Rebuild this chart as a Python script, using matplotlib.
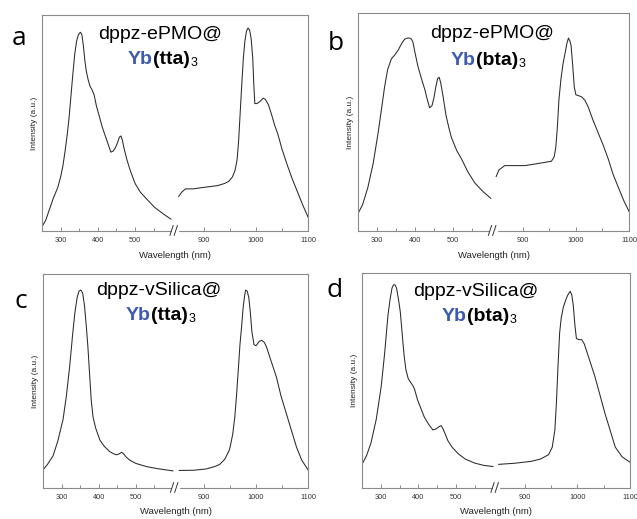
import numpy as np
import matplotlib
matplotlib.use("Agg")
import matplotlib.pyplot as plt
from matplotlib.ticker import FixedLocator, NullLocator

plt.rcParams['font.family'] = ['Liberation Sans', 'DejaVu Sans']

# ---- data (wavelength nm, normalised intensity) ----
a_uv_x = [250, 260, 270, 280, 292, 300, 306, 312, 318, 323, 328, 333, 338, 343, 348, 353, 357, 361, 365, 369,
          374, 379, 384, 390, 396, 404, 412, 420, 428, 435, 441, 447, 453, 458, 462, 466, 470, 478, 487, 500,
          514, 530, 552, 575, 596]
a_uv_y = [0.02, 0.05, 0.10, 0.15, 0.20, 0.25, 0.30, 0.37, 0.45, 0.53, 0.63, 0.73, 0.82, 0.88, 0.91, 0.92, 0.91, 0.86,
          0.79, 0.74, 0.70, 0.67, 0.655, 0.63, 0.58, 0.53, 0.48, 0.44, 0.40, 0.365, 0.37, 0.385, 0.41, 0.435, 0.44,
          0.42, 0.385, 0.33, 0.28, 0.22, 0.18, 0.15, 0.11, 0.08, 0.055]
a_nir_x = [852, 858, 865, 880, 894, 910, 926, 940, 948, 955, 960, 964, 967, 970, 973, 976, 979, 982, 985, 988,
           991, 994, 996, 998, 1002, 1008, 1014, 1018, 1024, 1030, 1036, 1042, 1050, 1061, 1070, 1080, 1090, 1100]
a_nir_y = [0.16, 0.18, 0.195, 0.195, 0.20, 0.205, 0.21, 0.22, 0.23, 0.25, 0.28, 0.33, 0.42, 0.55, 0.68, 0.80, 0.88,
           0.925, 0.94, 0.93, 0.89, 0.80, 0.68, 0.59, 0.59, 0.60, 0.615, 0.61, 0.585, 0.54, 0.49, 0.45, 0.38, 0.30,
           0.24, 0.18, 0.12, 0.065]

b_uv_x = [250, 262, 276, 290, 303, 312, 320, 328, 338, 348, 356, 365, 373, 380, 386, 391, 395, 400, 408, 417,
          426, 433, 439, 445, 450, 455, 460, 464, 468, 474, 482, 490, 496, 510, 523, 540, 558, 580, 600]
b_uv_y = [0.08, 0.12, 0.20, 0.31, 0.45, 0.56, 0.66, 0.74, 0.79, 0.81, 0.83, 0.86, 0.88, 0.885, 0.885, 0.88, 0.865,
          0.82, 0.755, 0.70, 0.65, 0.60, 0.565, 0.575, 0.61, 0.66, 0.70, 0.705, 0.68, 0.62, 0.53, 0.47, 0.43, 0.37,
          0.33, 0.27, 0.22, 0.18, 0.15]
b_nir_x = [849, 855, 866, 885, 904, 930, 954, 959, 962, 965, 968, 972, 976, 980, 983, 986, 989, 991, 994, 997,
           1000, 1006, 1011, 1017, 1023, 1032, 1042, 1052, 1061, 1070, 1080, 1090, 1100]
b_nir_y = [0.25, 0.28, 0.30, 0.30, 0.30, 0.31, 0.32, 0.34, 0.38, 0.47, 0.60, 0.70, 0.77, 0.82, 0.86, 0.885, 0.87,
           0.85, 0.76, 0.66, 0.625, 0.62, 0.615, 0.60, 0.57, 0.51, 0.45, 0.39, 0.33, 0.26, 0.20, 0.14, 0.09]

c_uv_x = [250, 262, 277, 290, 304, 313, 322, 330, 336, 342, 347, 352, 357, 362, 367, 371, 376, 380, 385, 392,
          403, 415, 430, 440, 448, 456, 462, 467, 474, 484, 500, 529, 560, 600]
c_uv_y = [0.085, 0.11, 0.15, 0.22, 0.32, 0.43, 0.57, 0.72, 0.82, 0.89, 0.92, 0.925, 0.91, 0.85, 0.75, 0.66, 0.52,
          0.41, 0.33, 0.28, 0.225, 0.195, 0.17, 0.16, 0.155, 0.16, 0.167, 0.16, 0.145, 0.13, 0.115, 0.10, 0.09, 0.08]
c_nir_x = [852, 880, 904, 920, 930, 940, 949, 955, 959, 962, 966, 969, 972, 975, 978, 980, 983, 986, 989, 992,
           996, 1000, 1006, 1011, 1016, 1020, 1028, 1039, 1048, 1058, 1068, 1078, 1088, 1100]
c_nir_y = [0.082, 0.083, 0.089, 0.10, 0.11, 0.135, 0.18, 0.25, 0.33, 0.42, 0.56, 0.67, 0.75, 0.84, 0.90, 0.925,
           0.92, 0.89, 0.82, 0.73, 0.67, 0.665, 0.685, 0.69, 0.68, 0.66, 0.60, 0.52, 0.43, 0.35, 0.27, 0.19, 0.13,
           0.085]

d_uv_x = [250, 262, 274, 288, 301, 310, 319, 325, 330, 334, 338, 342, 347, 352, 357, 362, 367, 373, 380, 386,
          390, 398, 407, 416, 428, 439, 448, 455, 461, 466, 472, 479, 490, 506, 525, 550, 575, 599]
d_uv_y = [0.11, 0.15, 0.21, 0.32, 0.47, 0.62, 0.80, 0.88, 0.93, 0.945, 0.945, 0.93, 0.88, 0.82, 0.72, 0.62, 0.55,
          0.51, 0.49, 0.475, 0.46, 0.41, 0.37, 0.33, 0.295, 0.27, 0.275, 0.285, 0.29, 0.275, 0.25, 0.22, 0.19, 0.16,
          0.135, 0.116, 0.105, 0.10]
d_nir_x = [848, 880, 912, 930, 945, 952, 957, 960, 963, 966, 969, 973, 977, 981, 986, 989, 992, 995, 998, 1003,
           1008, 1013, 1017, 1025, 1033, 1042, 1052, 1062, 1072, 1085, 1100]
d_nir_y = [0.11, 0.115, 0.124, 0.135, 0.155, 0.19, 0.27, 0.40, 0.57, 0.72, 0.79, 0.84, 0.87, 0.895, 0.915, 0.90,
           0.85, 0.76, 0.695, 0.69, 0.69, 0.67, 0.64, 0.58, 0.52, 0.44, 0.35, 0.27, 0.19, 0.145, 0.12]

panel_letters = ['a', 'b', 'c', 'd']
hosts = ['dppz-ePMO@', 'dppz-ePMO@', 'dppz-vSilica@', 'dppz-vSilica@']
ligands = ['(tta)', '(bta)', '(tta)', '(bta)']
major_ticks = [300, 400, 500, 900, 1000, 1100]
minor_ticks = [350, 450, 550, 950, 1050]

W, H = 637, 519

# broken wavelength axis: 250-600 | 850-1100
bx = [0, 600, 850, 2000]
by = [-0.35, 0.49, 0.51, 2.764]
def fwd(x):
    return np.interp(x, bx, by)
def inv(y):
    return np.interp(y, by, bx)

fig = plt.figure(figsize=(W / 100, H / 100), dpi=100)

# axes boxes in pixels: left, top, right, bottom
boxes = [(42, 15, 308, 231), (358, 13, 629, 231), (43, 274, 308, 488), (362, 273, 630, 488)]
series = [(a_uv_x, a_uv_y, a_nir_x, a_nir_y), (b_uv_x, b_uv_y, b_nir_x, b_nir_y),
          (c_uv_x, c_uv_y, c_nir_x, c_nir_y), (d_uv_x, d_uv_y, d_nir_x, d_nir_y)]
letter_pos = [(12, 45), (328, 50), (14, 308), (326, 297)]
title1_pos = [(160, 39), (492, 38), (159, 295), (476, 296)]
title2_pos = [(128, 64), (451, 65), (126, 320), (442, 321)]

frame_col = '#8a8a8a'
line_col = '#2a2a2a'
blue = '#3d5bb3'

for i in range(4):
    l, t, r, b = boxes[i]
    ax = fig.add_axes([l / W, 1 - b / H, (r - l) / W, (b - t) / H])
    ax.set_xscale('function', functions=(fwd, inv))
    ux, uy, nx, ny = series[i]
    ax.plot(ux, uy, color=line_col, lw=0.75)
    ax.plot(nx, ny, color=line_col, lw=0.75)
    ax.set_xlim(250, 1100)
    ax.set_ylim(0, 1)
    ax.xaxis.set_major_locator(FixedLocator(major_ticks))
    ax.xaxis.set_minor_locator(FixedLocator(minor_ticks))
    ax.set_xticklabels([str(v) for v in major_ticks])
    ax.yaxis.set_major_locator(NullLocator())
    ax.tick_params(axis='x', which='both', direction='in', color=frame_col, labelsize=5.3,
                   labelcolor='#333333', pad=4)
    ax.tick_params(axis='x', which='major', length=2.8, width=0.7)
    ax.tick_params(axis='x', which='minor', length=2.0, width=0.7)
    for s in ax.spines.values():
        s.set_color(frame_col)
        s.set_linewidth(0.8)
    ax.set_xlabel('Wavelength (nm)', fontsize=6.8, labelpad=5, color='#222222')
    ax.set_ylabel('Intensity (a.u.)', fontsize=6, labelpad=3, color='#222222')

    # break marks on the bottom axis
    ax.add_patch(plt.Rectangle((0.487, -0.012), 0.026, 0.024, transform=ax.transAxes,
                               color='white', clip_on=False, zorder=5))
    for dx in (0.487, 0.503):
        ax.plot([dx - 0.006, dx + 0.006], [-0.02, 0.025], transform=ax.transAxes,
                color='#333333', lw=0.7, clip_on=False, zorder=6)

    # panel letter
    lx, ly = letter_pos[i]
    fig.text(lx / W, 1 - ly / H, panel_letters[i], fontsize=19, family=['Open Sans', 'DejaVu Sans'],
             va='baseline', ha='left')

    # titles
    tx, ty = title1_pos[i]
    fig.text(tx / W, 1 - ty / H, hosts[i], fontsize=14, ha='center', va='baseline')
    sx, sy = title2_pos[i]
    t1 = fig.text(sx / W, 1 - sy / H, 'Yb', fontsize=14, fontweight='bold', color=blue,
                  ha='left', va='baseline')
    t2 = ax.annotate(ligands[i], xycoords=t1, xy=(1, 0), xytext=(0.2, 0), textcoords='offset points',
                     va='bottom', fontsize=14, fontweight='bold')
    ax.annotate('3', xycoords=t2, xy=(1, 0), xytext=(0.4, -0.5), textcoords='offset points',
                va='bottom', fontsize=9)

fig.savefig('out.png', dpi=100)
